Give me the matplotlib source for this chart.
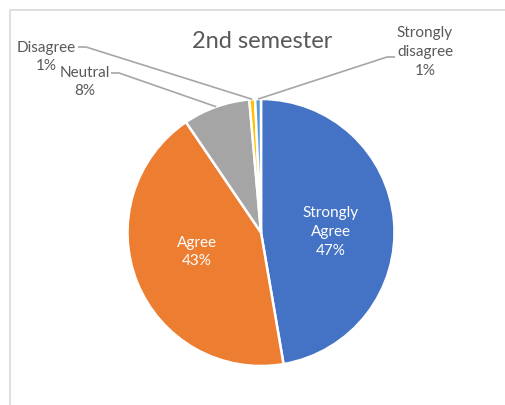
import matplotlib.pyplot as plt
import numpy as np

#### Data ####

labels = ['Strongly\nAgree', 'Agree', 'Neutral', 'Disagree', 'Strongly\ndisagree']
values = [47.3, 43.2, 8.1, 0.7, 0.7]
colors = ['#4472C4', '#ED7D31', '#A5A5A5', '#FFC000', '#5B9BD5']
title = '2nd semester'

#### Plot ####

plt.rcParams['font.family'] = ['Lato', 'DejaVu Sans']

W, H = 506, 405
fig = plt.figure(figsize=(W / 100, H / 100), dpi=100)
ax = fig.add_axes([0, 0, 1, 1])

# chart frame (left and top edges visible)
ax.plot([10.5, 10.5, W], [0, H - 9.5, H - 9.5], color='#D9D9D9', lw=1.2)

cx, cy, r = 261, H - 232.5, 133.5
wedges, _ = ax.pie(values, colors=colors, startangle=90, counterclock=False,
                   center=(cx, cy), radius=r, frame=True,
                   wedgeprops=dict(edgecolor='white', linewidth=1.8))
ax.set_xlim(0, W)
ax.set_ylim(0, H)
ax.set_aspect('equal')
ax.axis('off')

def edge_point(w):
    ang = np.deg2rad((w.theta1 + w.theta2) / 2)
    return cx + r * np.cos(ang), cy + r * np.sin(ang)

lab_kw = dict(fontsize=11, ha='center', va='center', linespacing=1.45)
txt_c = '#595959'

def pct(v):
    return f'{v:.0f}%'

# inside labels
ax.text(331, H - 232, f'{labels[0]}\n{pct(values[0])}', color='white', **lab_kw)
ax.text(197, H - 252, f'{labels[1]}\n{pct(values[1])}', color='white', **lab_kw)

# outside labels with leader lines
line_c = '#A6A6A6'
leaders = {
    2: [(111, H - 73), (119, H - 73)],
    3: [(78, H - 47), (86, H - 47)],
    4: [(395, H - 57), (387, H - 57)],
}
for i, pts in leaders.items():
    ex, ey = edge_point(wedges[i])
    xs = [p[0] for p in pts] + [ex]
    ys = [p[1] for p in pts] + [ey]
    ax.plot(xs, ys, color=line_c, lw=1.2, solid_capstyle='butt')

ax.text(85, H - 82, f'{labels[2]}\n{pct(values[2])}', color=txt_c, **lab_kw)
ax.text(46, H - 57, f'{labels[3]}\n{pct(values[3])}', color=txt_c, **lab_kw)
ax.text(425, H - 52, f'{labels[4]}\n{pct(values[4])}', color=txt_c, **lab_kw)

ax.text(262, H - 42, title, fontsize=17, ha='center', va='center', color=txt_c)

fig.savefig('out.png', dpi=100)
